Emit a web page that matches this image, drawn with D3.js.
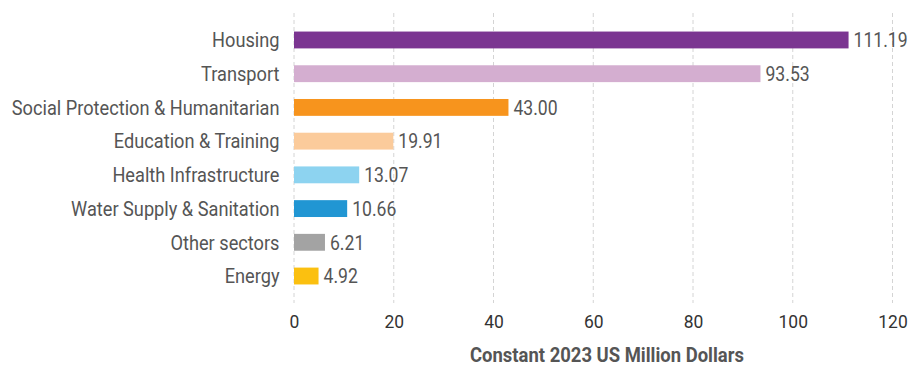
<!DOCTYPE html>
<html>
<head>
<meta charset="utf-8">
<script src="https://cdn.jsdelivr.net/npm/d3@7"></script>
<style>
  html, body { margin: 0; padding: 0; background: #fff; }
  svg { display: block; font-family: Roboto, "Noto Sans", sans-serif; }
</style>
</head>
<body>
<svg id="chart" width="917" height="366"></svg>
<script>
// Sector allocations, constant 2023 US million dollars
const sectors = [
  "Housing",
  "Transport",
  "Social Protection & Humanitarian",
  "Education & Training",
  "Health Infrastructure",
  "Water Supply & Sanitation",
  "Other sectors",
  "Energy"
];
const amounts = [111.19, 93.53, 43.00, 19.91, 13.07, 10.66, 6.21, 4.92];
const barColors = ["#7b3591", "#d4aed0", "#f7941d", "#fbcb9b", "#8dd3f0", "#2196d3", "#a3a3a3", "#fbc010"];
const xTicks = [0, 20, 40, 60, 80, 100, 120];
const axisTitle = "Constant 2023 US Million Dollars";

const rows = sectors.map((s, i) => ({ sector: s, value: amounts[i], color: barColors[i] }));

const svg = d3.select("#chart");
const plot = { left: 294, right: 892.5, top: 13, bottom: 303 };
// horizontal glyph compression for a condensed look
const squeezeCat = 0.91, squeezeVal = 0.88, squeezeTick = 0.92, squeezeTitle = 0.9;

const x = d3.scaleLinear().domain([0, 120]).range([plot.left, plot.right]);
const y = d3.scaleBand()
  .domain(sectors)
  .range([plot.top, plot.bottom])
  .paddingInner(0.5)
  .paddingOuter(0.55);

// dashed vertical gridlines
svg.append("g")
  .selectAll("line")
  .data(xTicks)
  .join("line")
  .attr("x1", d => x(d)).attr("x2", d => x(d))
  .attr("y1", plot.top).attr("y2", plot.bottom)
  .attr("stroke", "#d4d4d4")
  .attr("stroke-width", 1)
  .attr("stroke-dasharray", "4,3");

// bars
svg.append("g")
  .selectAll("rect")
  .data(rows)
  .join("rect")
  .attr("x", x(0))
  .attr("y", d => y(d.sector))
  .attr("width", d => x(d.value) - x(0))
  .attr("height", y.bandwidth())
  .attr("fill", d => d.color);

// value labels
svg.append("g")
  .selectAll("text")
  .data(rows)
  .join("text")
  .attr("transform", d => `translate(${x(d.value) + 5},${y(d.sector) + y.bandwidth() / 2}) scale(${squeezeVal},1)`)
  .attr("dy", "0.36em")
  .attr("font-size", 20)
  .attr("fill", "#555")
  .text(d => d.value.toFixed(2));

// category labels
const yAxis = svg.append("g")
  .attr("transform", `translate(${plot.left},0)`)
  .call(d3.axisLeft(y).tickSize(0).tickPadding(0));
yAxis.select(".domain").remove();
yAxis.selectAll(".tick text")
  .attr("x", null)
  .attr("transform", `translate(-14.5,0) scale(${squeezeCat},1)`)
  .attr("dy", "0.36em")
  .attr("font-family", "Roboto, sans-serif")
  .attr("font-size", 20)
  .attr("fill", "#555");

// x axis tick labels
const xAxis = svg.append("g")
  .attr("transform", `translate(0,${plot.bottom})`)
  .call(d3.axisBottom(x).tickValues(xTicks).tickSize(0).tickPadding(0).tickFormat(d3.format("d")));
xAxis.select(".domain").remove();
xAxis.selectAll(".tick text")
  .attr("y", null).attr("dy", null)
  .attr("transform", `translate(0,25.3) scale(${squeezeTick},1)`)
  .attr("font-family", "Roboto, sans-serif")
  .attr("font-size", 19)
  .attr("fill", "#333");

// axis title
svg.append("text")
  .attr("transform", `translate(607,361.7) scale(${squeezeTitle},1)`)
  .attr("text-anchor", "middle")
  .attr("font-size", 20.5)
  .attr("font-weight", "bold")
  .attr("fill", "#555")
  .text(axisTitle);
</script>
</body>
</html>
